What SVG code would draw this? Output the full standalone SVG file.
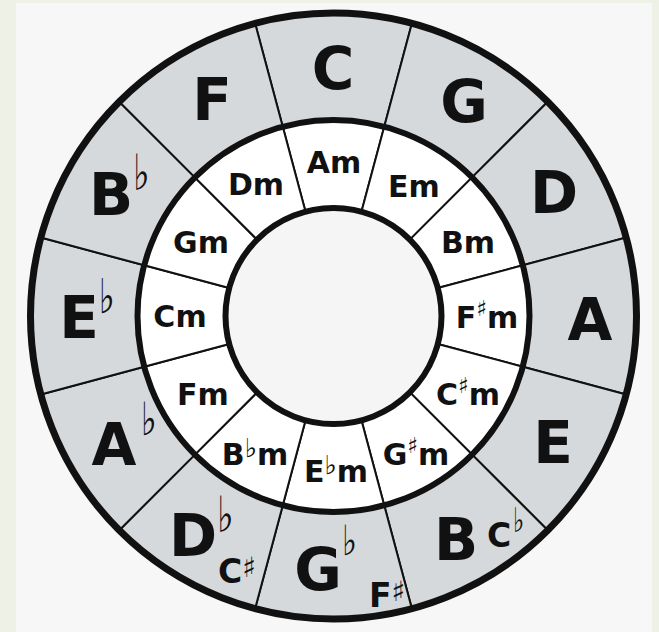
<svg xmlns="http://www.w3.org/2000/svg" width="659" height="632" viewBox="0 0 659 632">
<style>
.maj{fill:#d5d9dc;stroke:#111;stroke-width:2}
.min{fill:#ffffff;stroke:#111;stroke-width:2}
.ring{fill:none;stroke:#111}
.big{font-family:"DejaVu Sans",sans-serif;font-weight:bold;font-size:58px;fill:#111;text-anchor:middle}
.sm{font-family:"DejaVu Sans",sans-serif;font-weight:bold;font-size:30px;fill:#111;text-anchor:middle}
.mid{font-family:"DejaVu Sans",sans-serif;font-weight:bold;font-size:33px;fill:#111}
.acc{font-family:"DejaVu Sans",sans-serif;font-weight:normal;fill:#111}
</style>
<rect x="0" y="0" width="659" height="632" fill="#eef1e5"/>
<rect x="16" y="3" width="636" height="629" fill="#f7f7f7"/>
<g id="majors">
<g id="C"><path class="maj" d="M255.08,23.33 A303,303 0 0 1 411.92,23.33 L384.22,126.68 A196,196 0 0 0 282.78,126.68 Z"/><text class="big" x="333" y="89">C</text></g>
<g id="G"><path class="maj" d="M411.92,23.33 A303,303 0 0 1 547.75,101.75 L472.09,177.41 A196,196 0 0 0 384.22,126.68 Z"/><text class="big" x="464" y="122">G</text></g>
<g id="D"><path class="maj" d="M547.75,101.75 A303,303 0 0 1 626.17,237.58 L522.82,265.28 A196,196 0 0 0 472.09,177.41 Z"/><text class="big" x="554" y="213">D</text></g>
<g id="A"><path class="maj" d="M626.17,237.58 A303,303 0 0 1 626.17,394.42 L522.82,366.72 A196,196 0 0 0 522.82,265.28 Z"/><text class="big" x="590" y="340">A</text></g>
<g id="E"><path class="maj" d="M626.17,394.42 A303,303 0 0 1 547.75,530.25 L472.09,454.59 A196,196 0 0 0 522.82,366.72 Z"/><text class="big" x="553" y="463">E</text></g>
<g id="B"><path class="maj" d="M547.75,530.25 A303,303 0 0 1 411.92,608.67 L384.22,505.32 A196,196 0 0 0 472.09,454.59 Z"/><text class="big" x="456" y="560">B</text><text class="mid" x="487" y="547">C</text><text class="acc" font-size="34" transform="translate(513,532) scale(0.7,1)">♭</text></g>
<g id="Gb"><path class="maj" d="M411.92,608.67 A303,303 0 0 1 255.08,608.67 L282.78,505.32 A196,196 0 0 0 384.22,505.32 Z"/><text class="big" x="318" y="590">G</text><text class="acc" font-size="42" transform="translate(342,555) scale(0.75,1)">♭</text><text class="mid" x="369" y="607" font-size="31">F<tspan class="acc" font-size="28" dy="-6">♯</tspan></text></g>
<g id="Db"><path class="maj" d="M255.08,608.67 A303,303 0 0 1 119.25,530.25 L194.91,454.59 A196,196 0 0 0 282.78,505.32 Z"/><text class="big" x="193" y="556">D</text><text class="acc" font-size="50" transform="translate(217,532) scale(0.7,1)">♭</text><text class="mid" x="218" y="583">C<tspan class="acc" font-size="28" dy="-6">♯</tspan></text></g>
<g id="Ab"><path class="maj" d="M119.25,530.25 A303,303 0 0 1 40.83,394.42 L144.18,366.72 A196,196 0 0 0 194.91,454.59 Z"/><text class="big" x="114" y="465">A</text><text class="acc" font-size="46" transform="translate(141,435) scale(0.72,1)">♭</text></g>
<g id="Eb"><path class="maj" d="M40.83,394.42 A303,303 0 0 1 40.83,237.58 L144.18,265.28 A196,196 0 0 0 144.18,366.72 Z"/><text class="big" x="79" y="338">E</text><text class="acc" font-size="48" transform="translate(99,313) scale(0.7,1)">♭</text></g>
<g id="Bb"><path class="maj" d="M40.83,237.58 A303,303 0 0 1 119.25,101.75 L194.91,177.41 A196,196 0 0 0 144.18,265.28 Z"/><text class="big" x="111" y="215">B</text><text class="acc" font-size="50" transform="translate(133,190) scale(0.7,1)">♭</text></g>
<g id="F"><path class="maj" d="M119.25,101.75 A303,303 0 0 1 255.08,23.33 L282.78,126.68 A196,196 0 0 0 194.91,177.41 Z"/><text class="big" x="212" y="120">F</text></g>
</g>
<g id="minors">
<g id="Am"><path class="min" d="M282.78,126.68 A196,196 0 0 1 384.22,126.68 L361.45,211.7 A108,108 0 0 0 305.55,211.7 Z"/><text class="sm" x="334" y="173">Am</text></g>
<g id="Em"><path class="min" d="M384.22,126.68 A196,196 0 0 1 472.09,177.41 L409.87,239.63 A108,108 0 0 0 361.45,211.7 Z"/><text class="sm" x="414" y="197">Em</text></g>
<g id="Bm"><path class="min" d="M472.09,177.41 A196,196 0 0 1 522.82,265.28 L437.8,288.05 A108,108 0 0 0 409.87,239.63 Z"/><text class="sm" x="468" y="253">Bm</text></g>
<g id="Fsm"><path class="min" d="M522.82,265.28 A196,196 0 0 1 522.82,366.72 L437.8,343.95 A108,108 0 0 0 437.8,288.05 Z"/><text class="sm" x="487" y="328">F<tspan class="acc" font-size="22" dy="-12">♯</tspan><tspan dy="12">m</tspan></text></g>
<g id="Csm"><path class="min" d="M522.82,366.72 A196,196 0 0 1 472.09,454.59 L409.87,392.37 A108,108 0 0 0 437.8,343.95 Z"/><text class="sm" x="468" y="405">C<tspan class="acc" font-size="22" dy="-12">♯</tspan><tspan dy="12">m</tspan></text></g>
<g id="Gsm"><path class="min" d="M472.09,454.59 A196,196 0 0 1 384.22,505.32 L361.45,420.3 A108,108 0 0 0 409.87,392.37 Z"/><text class="sm" x="416" y="465">G<tspan class="acc" font-size="22" dy="-12">♯</tspan><tspan dy="12">m</tspan></text></g>
<g id="Ebm"><path class="min" d="M384.22,505.32 A196,196 0 0 1 282.78,505.32 L305.55,420.3 A108,108 0 0 0 361.45,420.3 Z"/><text class="sm" x="336" y="482">E<tspan class="acc" font-size="26" dy="-8">♭</tspan><tspan dy="8">m</tspan></text></g>
<g id="Bbm"><path class="min" d="M282.78,505.32 A196,196 0 0 1 194.91,454.59 L257.13,392.37 A108,108 0 0 0 305.55,420.3 Z"/><text class="sm" x="255" y="465">B<tspan class="acc" font-size="26" dy="-8">♭</tspan><tspan dy="8">m</tspan></text></g>
<g id="Fm"><path class="min" d="M194.91,454.59 A196,196 0 0 1 144.18,366.72 L229.2,343.95 A108,108 0 0 0 257.13,392.37 Z"/><text class="sm" x="203" y="405">Fm</text></g>
<g id="Cm"><path class="min" d="M144.18,366.72 A196,196 0 0 1 144.18,265.28 L229.2,288.05 A108,108 0 0 0 229.2,343.95 Z"/><text class="sm" x="180" y="327">Cm</text></g>
<g id="Gm"><path class="min" d="M144.18,265.28 A196,196 0 0 1 194.91,177.41 L257.13,239.63 A108,108 0 0 0 229.2,288.05 Z"/><text class="sm" x="201" y="253">Gm</text></g>
<g id="Dm"><path class="min" d="M194.91,177.41 A196,196 0 0 1 282.78,126.68 L305.55,211.7 A108,108 0 0 0 257.13,239.63 Z"/><text class="sm" x="256" y="195">Dm</text></g>
</g>
<g id="rings">
<circle class="ring" cx="333.5" cy="316" r="303" stroke-width="7"/>
<circle class="ring" cx="333.5" cy="316" r="196" stroke-width="6"/>
<circle cx="333.5" cy="316" r="108" fill="#f5f5f5" stroke="#111" stroke-width="6"/>
</g>
</svg>
